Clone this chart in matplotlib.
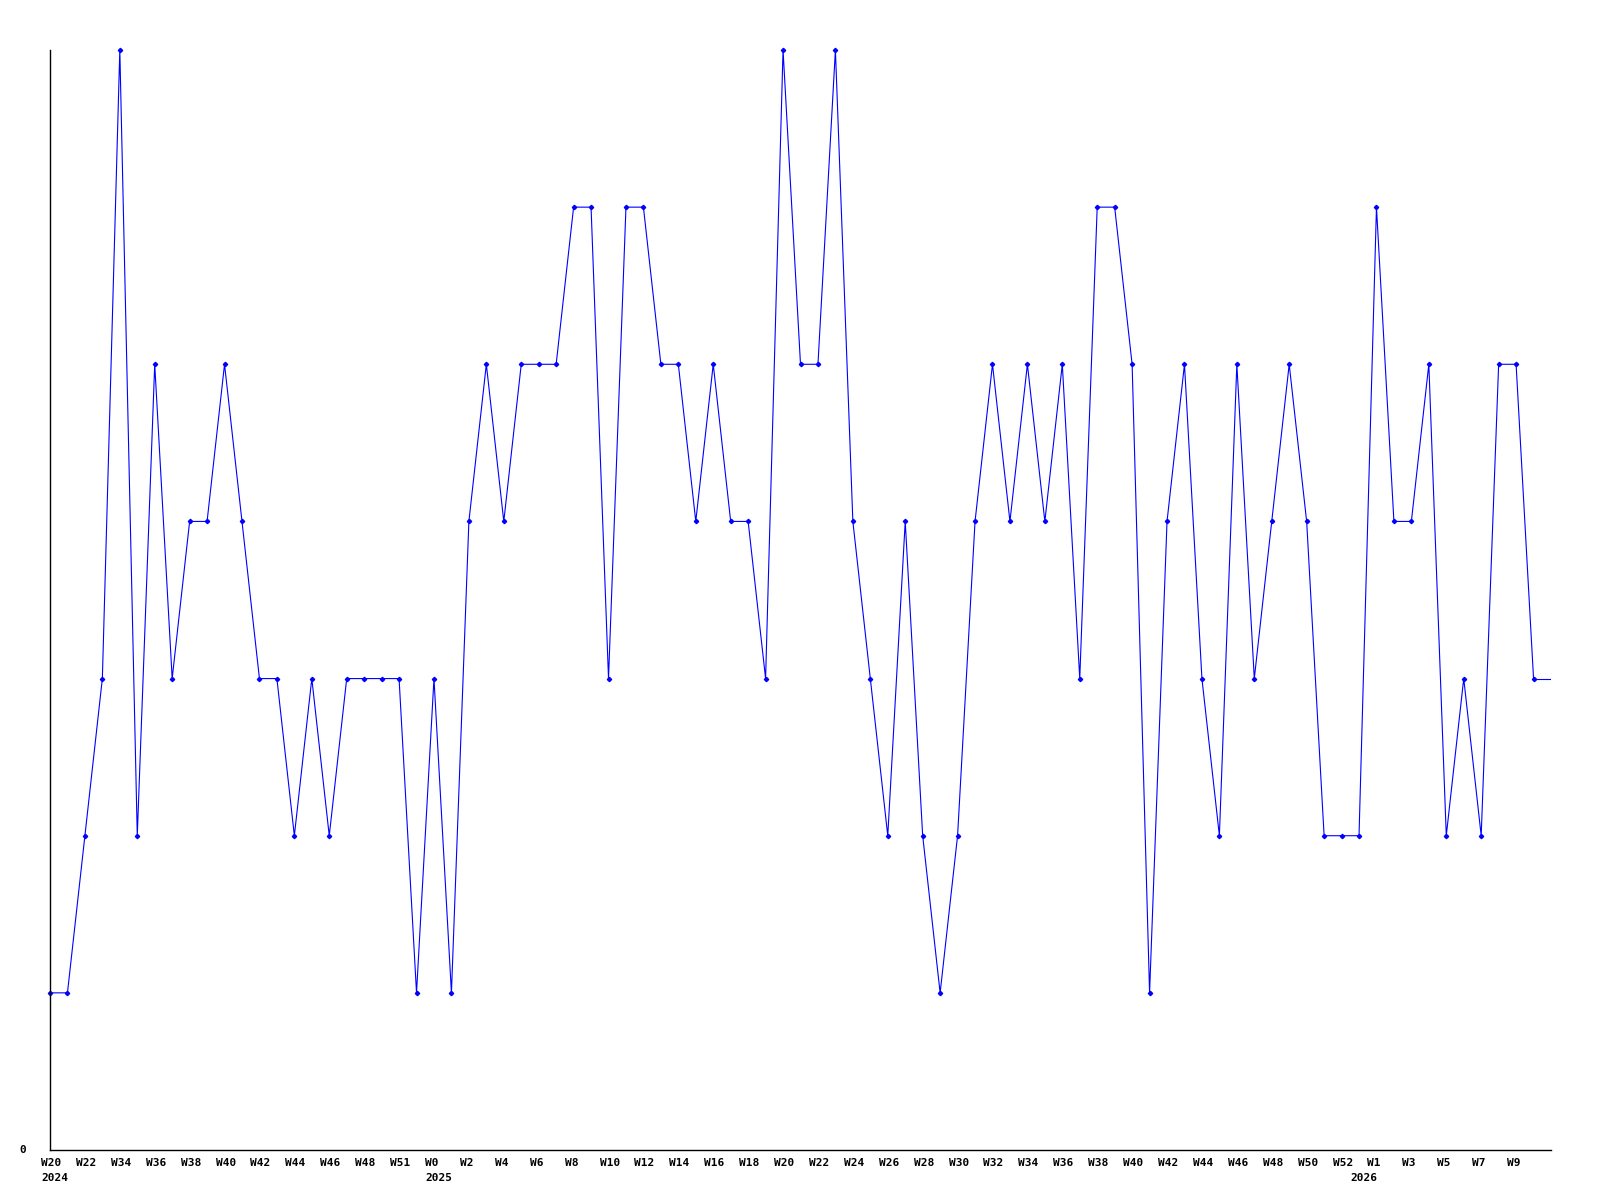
import matplotlib
matplotlib.use("Agg")
import matplotlib.pyplot as plt
from matplotlib.transforms import offset_copy

values = [1, 1, 2, 3, 7, 2, 5, 3, 4, 4, 5, 4, 3, 3, 2, 3, 2, 3, 3, 3, 3, 1,
          3, 1, 4, 5, 4, 5, 5, 5, 6, 6, 3, 6, 6, 5, 5, 4, 5, 4, 4, 3, 7, 5,
          5, 7, 4, 3, 2, 4, 2, 1, 2, 4, 5, 4, 5, 4, 5, 3, 6, 6, 5, 1, 4, 5,
          3, 2, 5, 3, 4, 5, 4, 2, 2, 2, 6, 4, 4, 5, 2, 3, 2, 5, 5, 3]

week_labels = ["W20", "W22", "W34", "W36", "W38", "W40", "W42", "W44", "W46",
               "W48", "W51",
               "W0", "W2", "W4", "W6", "W8", "W10", "W12", "W14", "W16", "W18",
               "W20", "W22", "W24", "W26", "W28", "W30", "W32", "W34", "W36",
               "W38", "W40", "W42", "W44", "W46", "W48", "W50", "W52",
               "W1", "W3", "W5", "W7", "W9"]
year_labels = ["2024", "2025", "2026"]
year_positions = [0, 22, 75]

fig = plt.figure(figsize=(16, 12), dpi=100)
ax = fig.add_axes([50 / 1600, 1 - 1150 / 1200, (1551 - 50) / 1600, 1100 / 1200])

x = list(range(len(values)))
xmax = len(values)
ax.plot(x, values, color="#0000ff", lw=0.8, marker="D", ms=2.2,
        mec="#0000ff", mfc="#0000ff", clip_on=False)
ax.plot([x[-1], xmax], [values[-1], values[-1]], color="#0000ff", lw=0.8)

ax.set_xlim(0, xmax)
ax.set_ylim(0, 7)
for s in ["top", "right"]:
    ax.spines[s].set_visible(False)
for s in ["left", "bottom"]:
    ax.spines[s].set_color("black")
    ax.spines[s].set_linewidth(1.0)
ax.set_xticks([])
ax.set_yticks([])

font = dict(family="DejaVu Sans Mono", fontweight="bold", fontsize=8)
trans = ax.get_xaxis_transform()
lab_trans = offset_copy(trans, fig=fig, x=-9, y=-8, units="dots")
year_trans = offset_copy(trans, fig=fig, x=-9, y=-23, units="dots")
for i, lab in enumerate(week_labels):
    ax.text(2 * i, 0, lab, transform=lab_trans, ha="left", va="top", **font)
for pos, lab in zip(year_positions, year_labels):
    ax.text(pos, 0, lab, transform=year_trans, ha="left", va="top", **font)

fig.text(19 / 1600, 1 - 1150 / 1200, "0", ha="left", va="center", **font)

fig.savefig("out.png", dpi=100)
